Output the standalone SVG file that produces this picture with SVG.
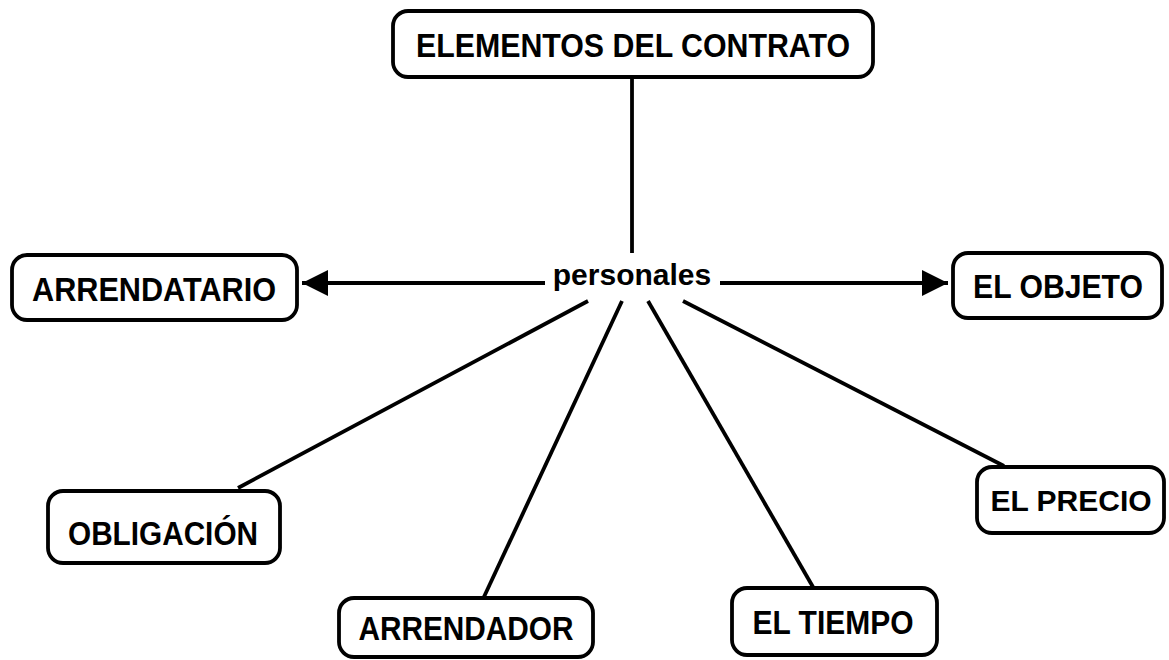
<svg xmlns="http://www.w3.org/2000/svg" width="1169" height="660" viewBox="0 0 1169 660">
<style>
.box{fill:#fff;stroke:#000;stroke-width:3.8}
.lbl{font-family:"Liberation Sans",Arial,sans-serif;font-weight:bold;font-size:34px;fill:#000;text-anchor:middle}
.pl{font-family:"Liberation Sans",Arial,sans-serif;font-weight:bold;font-size:30px;fill:#000;text-anchor:middle}
.ln{stroke:#000;stroke-width:3.8;fill:none}
</style>
<defs>
<marker id="ah" markerUnits="userSpaceOnUse" markerWidth="28" markerHeight="28" refX="26" refY="13" orient="auto">
<path d="M0,0 L26,13 L0,26 Z" fill="#000"/>
</marker>
</defs>
<rect width="1169" height="660" fill="#fff"/>
<g id="connectors">
<line class="ln" x1="632" y1="79" x2="632" y2="253"/>
<line class="ln" x1="545" y1="283" x2="302" y2="283" marker-end="url(#ah)"/>
<line class="ln" x1="720" y1="283" x2="948" y2="283" marker-end="url(#ah)"/>
<line class="ln" x1="588" y1="301" x2="238" y2="488"/>
<line class="ln" x1="622" y1="301" x2="483" y2="599"/>
<line class="ln" x1="648" y1="301" x2="813" y2="587"/>
<line class="ln" x1="683" y1="301" x2="1004" y2="466"/>
</g>
<g id="n-elementos">
<rect class="box" x="393" y="11" width="480" height="66" rx="15"/>
<text class="lbl" x="633" y="57" textLength="434" lengthAdjust="spacingAndGlyphs">ELEMENTOS DEL CONTRATO</text>
</g>
<g id="n-personales">
<text class="pl" x="632" y="285">personales</text>
</g>
<g id="n-arrendatario">
<rect class="box" x="12" y="255" width="285" height="65" rx="15"/>
<text class="lbl" x="154" y="301" textLength="244" lengthAdjust="spacingAndGlyphs">ARRENDATARIO</text>
</g>
<g id="n-objeto">
<rect class="box" x="953" y="253" width="209" height="65" rx="15"/>
<text class="lbl" x="1058" y="298" textLength="170" lengthAdjust="spacingAndGlyphs">EL OBJETO</text>
</g>
<g id="n-obligacion">
<rect class="box" x="48" y="491" width="232" height="72" rx="15"/>
<text class="lbl" x="163" y="545" textLength="190" lengthAdjust="spacingAndGlyphs">OBLIGACIÓN</text>
</g>
<g id="n-arrendador">
<rect class="box" x="339" y="598" width="254" height="59" rx="15"/>
<text class="lbl" x="466" y="640" textLength="215" lengthAdjust="spacingAndGlyphs">ARRENDADOR</text>
</g>
<g id="n-tiempo">
<rect class="box" x="732" y="588" width="205" height="67" rx="15"/>
<text class="lbl" x="833" y="634" textLength="161" lengthAdjust="spacingAndGlyphs">EL TIEMPO</text>
</g>
<g id="n-precio">
<rect class="box" x="977" y="467" width="187" height="66" rx="15"/>
<text class="pl" x="1071" y="511">EL PRECIO</text>
</g>
</svg>
